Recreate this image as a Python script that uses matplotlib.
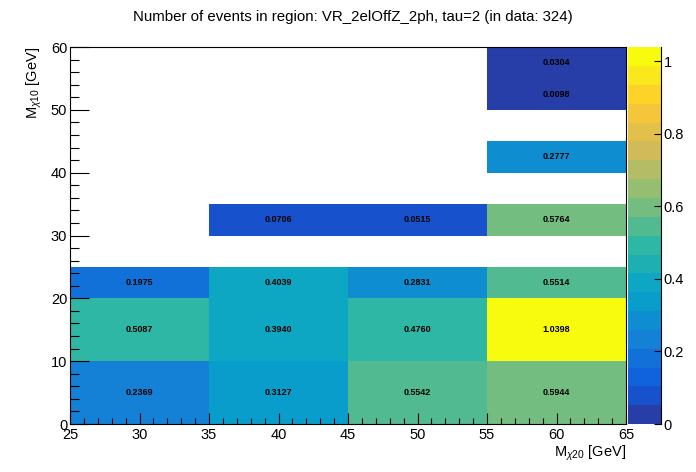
import numpy as np
import matplotlib
matplotlib.use("Agg")
import matplotlib.pyplot as plt
from matplotlib.colors import ListedColormap, BoundaryNorm

plt.rcParams['font.family'] = ['Liberation Sans', 'DejaVu Sans']
plt.rcParams['mathtext.fontset'] = 'custom'
plt.rcParams['mathtext.rm'] = 'Liberation Sans'
plt.rcParams['mathtext.it'] = 'Liberation Sans:italic'
plt.rcParams['mathtext.bf'] = 'Liberation Sans:bold'

# ---- data ----
x_edges = [25, 35, 45, 55, 65]
y_edges = [0, 10, 20, 25, 30, 35, 40, 45, 50, 55, 60]
nan = np.nan
row_0_10 = [0.2369, 0.3127, 0.5542, 0.5944]
row_10_20 = [0.5087, 0.3940, 0.4760, 1.0398]
row_20_25 = [0.1975, 0.4039, 0.2831, 0.5514]
row_25_30 = [nan, nan, nan, nan]
row_30_35 = [nan, 0.0706, 0.0515, 0.5764]
row_35_40 = [nan, nan, nan, nan]
row_40_45 = [nan, nan, nan, 0.2777]
row_45_50 = [nan, nan, nan, nan]
row_50_55 = [nan, nan, nan, 0.0098]
row_55_60 = [nan, nan, nan, 0.0304]
title = "Number of events in region: VR_2elOffZ_2ph, tau=2 (in data: 324)"
xlabel = r"M$_{\chi20}$ [GeV]"
ylabel = r"M$_{\chi10}$ [GeV]"
x_ticks = [25, 30, 35, 40, 45, 50, 55, 60, 65]
y_ticks = [0, 10, 20, 30, 40, 50, 60]
cbar_ticks = [0, 0.2, 0.4, 0.6, 0.8, 1.0]
cbar_ticklabels = ['0', '0.2', '0.4', '0.6', '0.8', '1']

Z = np.array([row_0_10, row_10_20, row_20_25, row_25_30, row_30_35,
              row_35_40, row_40_45, row_45_50, row_50_55, row_55_60])
Zm = np.ma.masked_invalid(Z)

# ---- ROOT kBird palette, 20 contour levels ----
stops = [0.0000, 0.1250, 0.2500, 0.3750, 0.5000, 0.6250, 0.7500, 0.8750, 1.0000]
red = [0.2082, 0.0592, 0.0780, 0.0232, 0.1802, 0.5301, 0.8186, 0.9956, 0.9764]
green = [0.1664, 0.3599, 0.5041, 0.6419, 0.7178, 0.7492, 0.7328, 0.7862, 0.9832]
blue = [0.5293, 0.8684, 0.8385, 0.7914, 0.6425, 0.4662, 0.3499, 0.1968, 0.0539]
ndiv = 20
ncol = 255
cols = []
for i in range(ndiv):
    idx = int((i + 0.99) * ncol / ndiv)
    f = idx / (ncol - 1)
    cols.append((np.interp(f, stops, red), np.interp(f, stops, green), np.interp(f, stops, blue)))
cmap = ListedColormap(cols)
cmap.set_over(cols[-1])
cmap.set_bad((1, 1, 1, 0))
zmax = np.nanmax(Z)
dz = zmax / ndiv
bounds = [0.0] + [(i - 0.01) * dz for i in range(1, ndiv)] + [zmax]
norm = BoundaryNorm(bounds, ndiv)

fig = plt.figure(figsize=(6.96, 4.72), dpi=100)
ax = fig.add_axes([70 / 696, 1 - 424 / 472, 556 / 696, 377 / 472])
cax = fig.add_axes([628 / 696, 1 - 424 / 472, 33 / 696, 377 / 472])

mesh = ax.pcolormesh(x_edges, y_edges, Zm, cmap=cmap, norm=norm)
xc = 0.5 * (np.array(x_edges[:-1]) + np.array(x_edges[1:]))
yc = 0.5 * (np.array(y_edges[:-1]) + np.array(y_edges[1:]))
for j in range(Z.shape[0]):
    for i in range(Z.shape[1]):
        if not np.isnan(Z[j, i]):
            ax.text(xc[i], yc[j], f"{Z[j, i]:.4f}", ha='center', va='center',
                    fontsize=6.5, fontweight='bold', color='black')

ax.set_xlim(x_edges[0], x_edges[-1])
ax.set_ylim(y_edges[0], y_edges[-1])
ax.set_xticks(x_ticks)
ax.set_xticks(np.arange(25, 66, 1), minor=True)
ax.set_yticks(y_ticks)
ax.set_yticks(np.arange(0, 61, 2), minor=True)
ax.tick_params(axis='x', which='major', direction='in', length=8, width=0.8, labelsize=10.5, pad=3)
ax.tick_params(axis='x', which='minor', direction='in', length=4, width=0.8)
ax.tick_params(axis='y', which='major', direction='in', length=13.5, width=0.8, labelsize=10.5, pad=2)
ax.tick_params(axis='y', which='minor', direction='in', length=6.8, width=0.8)
for s in ax.spines.values():
    s.set_linewidth(0.8)

ax.set_xlabel(xlabel, fontsize=10.5, loc='right', labelpad=1)
ax.set_ylabel(ylabel, fontsize=10.5, loc='top', labelpad=5)
fig.text(353 / 696, 1 - 17 / 472, title, ha='center', va='center', fontsize=10.8)

# colorbar
cb = fig.colorbar(mesh, cax=cax, ticks=cbar_ticks, spacing='proportional')
cb.outline.set_visible(False)
cax.spines['right'].set_visible(True)
cax.spines['right'].set_linewidth(0.8)
cax.yaxis.set_ticks_position('right')
cax.tick_params(axis='y', which='major', direction='in', length=5, width=0.8, labelsize=10.5, pad=2)
cax.tick_params(axis='y', which='minor', length=0)
cax.set_yticklabels(cbar_ticklabels)

fig.savefig("out.png", dpi=100)
